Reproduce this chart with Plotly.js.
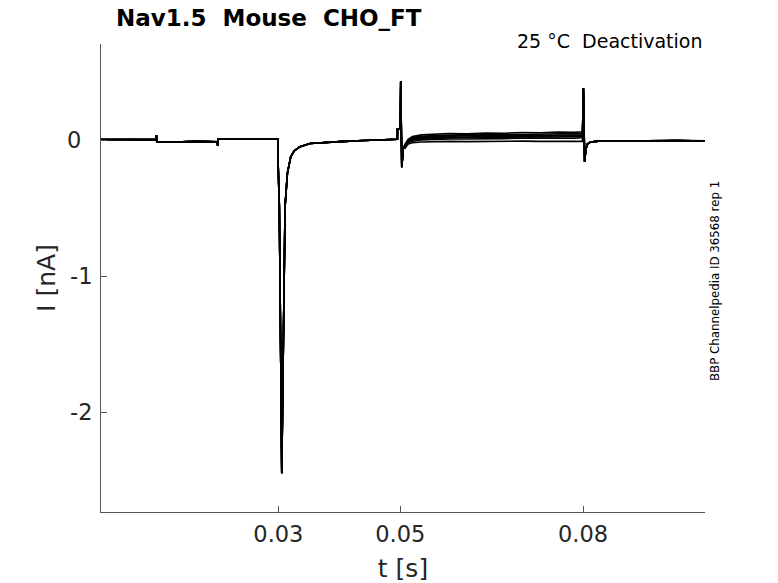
<!DOCTYPE html>
<html>
<head>
<meta charset="utf-8">
<script src="https://cdn.plot.ly/plotly-3.0.1.min.js"></script>
<style>
  html, body { margin: 0; padding: 0; background: #fff; }
  #chart { width: 778px; height: 583px; }
</style>
</head>
<body>
<div id="chart"></div>
<script>
// shared part of every sweep, before the 0.05 s step (t in s, I in nA)
const tPre = [0.0009, 0.0040, 0.0070, 0.00995, 0.01000, 0.01005, 0.0130, 0.0165, 0.01995, 0.02005, 0.0201, 0.0235, 0.0270, 0.02990,
              0.02996, 0.03016, 0.03056, 0.03082, 0.03098, 0.0311, 0.03148, 0.03203, 0.03260, 0.03356, 0.0352, 0.0375, 0.0401, 0.0440, 0.0470, 0.04950]
const iPre = [0.004, 0.002, 0.005, 0.003, 0.037, -0.012, -0.014, -0.010, -0.013, -0.044, 0.008, 0.010, 0.007, 0.009,
              -0.17, -0.49, -2.45, -1.47, -0.735, -0.49, -0.245, -0.123, -0.08, -0.049, -0.025, -0.018, -0.012, -0.004, 0.003, 0.005]

// capacitive transient at 0.05 s
const tStep = [0.04953, 0.04955, 0.05000, 0.05008, 0.05025, 0.05050]
const iStep = [0.005, 0.08, 0.08, 0.43, -0.20, -0.06]

// the sweeps split up between 0.05 and 0.08 s
const tTail = [0.0508, 0.0513, 0.0520, 0.0535, 0.0555, 0.0580, 0.0610, 0.0640, 0.0670, 0.0700, 0.0730, 0.0760, 0.0785, 0.0799]
const iTailA = [-0.03, 0.005, 0.025, 0.038, 0.042, 0.048, 0.046, 0.052, 0.050, 0.055, 0.053, 0.058, 0.056, 0.060]
const iTailB = [-0.035, 0.0, 0.018, 0.028, 0.032, 0.036, 0.040, 0.038, 0.043, 0.041, 0.045, 0.044, 0.048, 0.046]
const iTailC = [-0.04, -0.005, 0.012, 0.022, 0.027, 0.030, 0.033, 0.031, 0.035, 0.037, 0.034, 0.038, 0.036, 0.039]
const iTailD = [-0.045, -0.01, 0.006, 0.016, 0.021, 0.024, 0.022, 0.027, 0.026, 0.030, 0.028, 0.031, 0.029, 0.032]
const iTailE = [-0.05, -0.015, 0.0, 0.009, 0.014, 0.016, 0.019, 0.017, 0.021, 0.020, 0.023, 0.022, 0.025, 0.024]
const iTailF = [-0.055, -0.02, -0.008, 0.001, 0.005, 0.008, 0.007, 0.011, 0.010, 0.013, 0.012, 0.015, 0.014, 0.016]
const iTailG = [-0.06, -0.03, -0.02, -0.015, -0.012, -0.010, -0.012, -0.009, -0.011, -0.008, -0.010, -0.009, -0.011, -0.010]

// back to holding at 0.08 s
const tEnd = [0.08005, 0.08025, 0.08045, 0.08070, 0.0812, 0.0830, 0.0860, 0.0890, 0.0920, 0.0950, 0.0980, 0.1000]
const iEnd = [0.38, -0.16, -0.07, -0.03, -0.015, -0.006, -0.008, -0.005, -0.007, -0.004, -0.006, -0.005]

const xTicks = [0.03, 0.05, 0.08]
const xTickText = ['0.03', '0.05', '0.08']
const yTicks = [0, -1, -2]
// labels sit left-aligned in the original, so the 0 gets an en space after it
const yTickText = ['0\u2002', '-1', '-2']

class TraceChart {

    constructor(container){
        this.container = container
        this.font = 'DejaVu Sans, Liberation Sans, sans-serif'
        this.axisColor = '#555555'
    }

    _sweep(tail){
        return {
            x: tPre.concat(tStep, tTail, tEnd),
            y: iPre.concat(iStep, tail, iEnd),
            type: 'scatter',
            mode: 'lines',
            line: {color: '#000000', width: 1.6},
            hoverinfo: 'skip',
            showlegend: false
        }
    }

    drawPlot(){
        var data = [iTailG, iTailF, iTailE, iTailD, iTailC, iTailB, iTailA].map((tail)=>this._sweep(tail))

        var layout = {
            width: 778,
            height: 583,
            margin: {l: 101, r: 73, t: 44, b: 71},
            paper_bgcolor: '#ffffff',
            plot_bgcolor: '#ffffff',
            font: {family: this.font, color: '#262626'},
            xaxis: {
                range: [0.0009, 0.1],
                tickvals: xTicks,
                ticktext: xTickText,
                ticks: 'inside',
                ticklen: 6,
                tickcolor: this.axisColor,
                showline: true,
                linecolor: this.axisColor,
                linewidth: 1,
                showgrid: false,
                zeroline: false,
                ticklabelstandoff: 2,
                tickfont: {family: this.font, size: 22.5, color: '#262626'},
                title: {text: 't [s]', font: {family: this.font, size: 25, color: '#262626'}, standoff: 15}
            },
            yaxis: {
                range: [-2.735, 0.706],
                tickvals: yTicks,
                ticktext: yTickText,
                ticks: 'inside',
                ticklen: 6,
                tickcolor: this.axisColor,
                showline: true,
                linecolor: this.axisColor,
                linewidth: 1,
                showgrid: false,
                zeroline: false,
                ticklabelstandoff: 3,
                tickfont: {family: this.font, size: 22.5, color: '#262626'},
                title: {text: 'I [nA]', font: {family: this.font, size: 25, color: '#262626'}, standoff: 4}
            },
            annotations: [
                {
                    text: '<b>Nav1.5  Mouse  CHO_FT</b>',
                    xref: 'paper', yref: 'paper', x: 0.022, y: 1.0556,
                    xanchor: 'left', yanchor: 'middle', showarrow: false,
                    font: {family: this.font, size: 23, color: '#000000'}
                },
                {
                    text: '25 °C  Deactivation',
                    xref: 'paper', yref: 'paper', x: 0.998, y: 1.0064,
                    xanchor: 'right', yanchor: 'middle', showarrow: false,
                    font: {family: this.font, size: 19, color: '#000000'}
                },
                {
                    text: 'BBP Channelpedia ID 36568 rep 1',
                    xref: 'paper', yref: 'paper', x: 1.0166, y: 0.4936,
                    xanchor: 'center', yanchor: 'middle', showarrow: false, textangle: -90,
                    font: {family: this.font, size: 11.8, color: '#000000'}
                }
            ]
        }

        Plotly.newPlot(this.container, data, layout, {displayModeBar: false, staticPlot: true})
    }
}

const chart = new TraceChart('chart')
chart.drawPlot()
</script>
</body>
</html>
